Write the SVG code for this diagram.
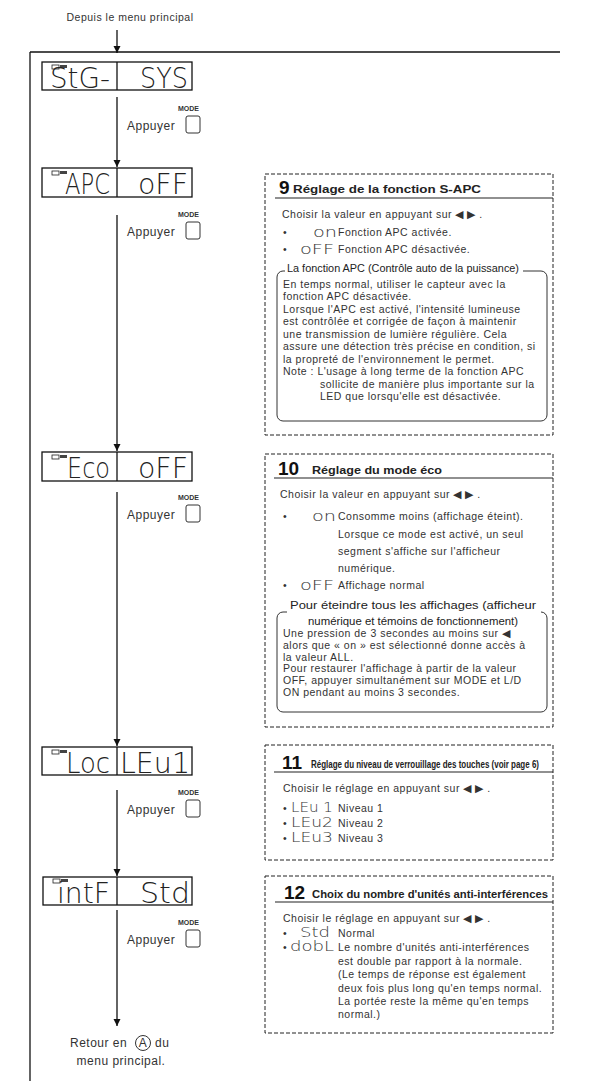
<svg xmlns="http://www.w3.org/2000/svg" width="596" height="1081" viewBox="0 0 596 1081">
<defs>
<style>
.t{font-family:"Liberation Sans",Arial,sans-serif;font-size:10.5px;letter-spacing:0.5px;fill:#333}
.ap{font-family:"Liberation Sans",Arial,sans-serif;font-size:12px;letter-spacing:0.5px;fill:#333}
.md{font-family:"Liberation Sans",Arial,sans-serif;font-size:7px;font-weight:bold;fill:#333}
.num{font-family:"Liberation Sans",Arial,sans-serif;font-size:19px;font-weight:bold;fill:#111}
.ti{font-family:"Liberation Sans",Arial,sans-serif;font-size:10.5px;font-weight:bold;fill:#222}
.lb{font-family:"Liberation Sans",Arial,sans-serif;font-size:10px;fill:#222}
.seg{font-family:"DejaVu Sans","Liberation Sans",sans-serif;font-weight:200;font-size:28px;fill:#222}
.sseg{font-family:"DejaVu Sans","Liberation Sans",sans-serif;font-weight:200;font-size:14px;fill:#333}
.disp{fill:#fff;stroke:#111;stroke-width:1.3}
.dash{fill:none;stroke:#222;stroke-width:1;stroke-dasharray:4 2}
.inner{fill:none;stroke:#333;stroke-width:1}
.ln{stroke:#111;stroke-width:1.3;fill:none}
.btn{fill:#fff;stroke:#333;stroke-width:1}
.ul{stroke:#222;stroke-width:1.2}
</style>
<marker id="ar" viewBox="0 0 10 10" refX="10" refY="5" markerWidth="7" markerHeight="9" markerUnits="userSpaceOnUse" orient="auto">
<path d="M0,0 L10,5 L0,10 z" fill="#111"/>
</marker>
<g id="ind"><rect x="0" y="0" width="7" height="4" fill="none" stroke="#222" stroke-width="0.8"/><rect x="8" y="0" width="7" height="3" fill="#444"/></g>
<g id="btnmode"><text class="md" x="-8" y="0">MODE</text><rect class="btn" x="0" y="5" width="14" height="17" rx="2"/></g>
</defs>
<rect width="596" height="1081" fill="#fff"/>

<text class="t" x="130" y="21" text-anchor="middle" font-size="12" letter-spacing="0.9">Depuis le menu principal</text>

<g id="frame">
<line class="ln" x1="30" y1="52" x2="560" y2="52"/>
<line class="ln" x1="30" y1="52" x2="30" y2="1081"/>
</g>

<g id="connectors">
<line class="ln" x1="117" y1="30" x2="117" y2="53" marker-end="url(#ar)"/>
<line class="ln" x1="117" y1="97" x2="117" y2="167" marker-end="url(#ar)"/>
<line class="ln" x1="117" y1="215" x2="117" y2="451" marker-end="url(#ar)"/>
<line class="ln" x1="117" y1="492" x2="117" y2="746" marker-end="url(#ar)"/>
<line class="ln" x1="117" y1="790" x2="117" y2="876" marker-end="url(#ar)"/>
<line class="ln" x1="117" y1="910" x2="117" y2="1026" marker-end="url(#ar)"/>
</g>

<g id="d1">
<rect class="disp" x="42" y="62" width="150" height="28"/>
<line class="ln" x1="117" y1="62" x2="117" y2="90"/>
<use href="#ind" x="52" y="65"/>
<text class="seg" x="50" y="88" textLength="60" lengthAdjust="spacingAndGlyphs">StG-</text>
<text class="seg" x="140" y="88" textLength="48" lengthAdjust="spacingAndGlyphs">SYS</text>
</g>
<g id="p1">
<text class="ap" x="127" y="130">Appuyer</text>
<use href="#btnmode" x="186" y="111"/>
</g>

<g id="d2">
<rect class="disp" x="42" y="168" width="150" height="29"/>
<line class="ln" x1="117" y1="168" x2="117" y2="197"/>
<use href="#ind" x="52" y="171"/>
<text class="seg" x="65" y="194" textLength="45" lengthAdjust="spacingAndGlyphs">APC</text>
<text class="seg" x="138" y="194" textLength="50" lengthAdjust="spacingAndGlyphs">oFF</text>
</g>
<g id="p2">
<text class="ap" x="127" y="236">Appuyer</text>
<use href="#btnmode" x="186" y="217"/>
</g>

<g id="d3">
<rect class="disp" x="42" y="452" width="150" height="29"/>
<line class="ln" x1="117" y1="452" x2="117" y2="481"/>
<use href="#ind" x="52" y="455"/>
<text class="seg" x="67" y="478" textLength="43" lengthAdjust="spacingAndGlyphs">Eco</text>
<text class="seg" x="138" y="478" textLength="50" lengthAdjust="spacingAndGlyphs">oFF</text>
</g>
<g id="p3">
<text class="ap" x="127" y="519">Appuyer</text>
<use href="#btnmode" x="186" y="500"/>
</g>

<g id="d4">
<rect class="disp" x="42" y="747" width="150" height="28"/>
<line class="ln" x1="117" y1="747" x2="117" y2="775"/>
<use href="#ind" x="52" y="750"/>
<text class="seg" x="66" y="773" textLength="44" lengthAdjust="spacingAndGlyphs">Loc</text>
<text class="seg" x="120" y="773" textLength="70" lengthAdjust="spacingAndGlyphs">LEu1</text>
</g>
<g id="p4">
<text class="ap" x="127" y="814">Appuyer</text>
<use href="#btnmode" x="186" y="795"/>
</g>

<g id="d5">
<rect class="disp" x="43" y="877" width="149" height="28"/>
<line class="ln" x1="117" y1="877" x2="117" y2="905"/>
<use href="#ind" x="53" y="879"/>
<text class="seg" x="57" y="903" textLength="53" lengthAdjust="spacingAndGlyphs">intF</text>
<text class="seg" x="140" y="903" textLength="50" lengthAdjust="spacingAndGlyphs">Std</text>
</g>
<g id="p5">
<text class="ap" x="127" y="944">Appuyer</text>
<use href="#btnmode" x="186" y="925"/>
</g>

<g id="ret">
<text class="ap" x="70" y="1047">Retour en</text>
<circle cx="143" cy="1043" r="7.5" fill="none" stroke="#333" stroke-width="1"/>
<text class="ap" x="143" y="1047" text-anchor="middle" letter-spacing="0">A</text>
<text class="ap" x="155" y="1047">du</text>
<text class="ap" x="121" y="1065" text-anchor="middle">menu principal.</text>
</g>

<g id="panel9">
<rect class="dash" x="265" y="174" width="288" height="261"/>
<text class="num" x="279" y="194">9</text>
<text class="ti" x="293" y="193" textLength="188" lengthAdjust="spacingAndGlyphs">Réglage de la fonction S-APC</text>
<line class="ul" x1="275" y1="198" x2="553" y2="198"/>
<text class="t" x="282" y="218">Choisir la valeur en appuyant sur ◀ ▶ .</text>
<text class="t" x="283" y="236">•</text>
<text class="sseg" x="313" y="237" textLength="24" lengthAdjust="spacingAndGlyphs">on</text>
<text class="t" x="338" y="236">Fonction APC activée.</text>
<text class="t" x="283" y="253">•</text>
<text class="sseg" x="300" y="254" textLength="34" lengthAdjust="spacingAndGlyphs">oFF</text>
<text class="t" x="338" y="253">Fonction APC désactivée.</text>
<rect class="inner" x="277" y="271" width="270" height="150" rx="6"/>
<rect x="285" y="262" width="238" height="13" fill="#fff"/>
<text class="lb" x="403" y="272" text-anchor="middle" textLength="232" lengthAdjust="spacingAndGlyphs">La fonction APC (Contrôle auto de la puissance)</text>
<text class="t" x="283" y="288">En temps normal, utiliser le capteur avec la</text>
<text class="t" x="283" y="300">fonction APC désactivée.</text>
<text class="t" x="283" y="312.5">Lorsque l'APC est activé, l'intensité lumineuse</text>
<text class="t" x="283" y="325">est contrôlée et corrigée de façon à maintenir</text>
<text class="t" x="283" y="337.5">une transmission de lumière régulière. Cela</text>
<text class="t" x="283" y="350">assure une détection très précise en condition, si</text>
<text class="t" x="283" y="362.5">la propreté de l'environnement le permet.</text>
<text class="t" x="283" y="375">Note :  L'usage à long terme de la fonction APC</text>
<text class="t" x="320" y="387.5">sollicite de manière plus importante sur la</text>
<text class="t" x="320" y="400">LED que lorsqu'elle est désactivée.</text>
</g>

<g id="panel10">
<rect class="dash" x="265" y="454" width="288" height="273"/>
<text class="num" x="278" y="475">10</text>
<text class="ti" x="312" y="474" textLength="130" lengthAdjust="spacingAndGlyphs">Réglage du mode éco</text>
<line class="ul" x1="274" y1="478" x2="553" y2="478"/>
<text class="t" x="280" y="498">Choisir la valeur en appuyant sur ◀ ▶ .</text>
<text class="t" x="283" y="520">•</text>
<text class="sseg" x="312" y="521" textLength="24" lengthAdjust="spacingAndGlyphs">on</text>
<text class="t" x="338" y="520">Consomme moins (affichage éteint).</text>
<text class="t" x="338" y="538">Lorsque ce mode est activé, un seul</text>
<text class="t" x="338" y="555">segment s'affiche sur l'afficheur</text>
<text class="t" x="338" y="572">numérique.</text>
<text class="t" x="283" y="589">•</text>
<text class="sseg" x="300" y="590" textLength="34" lengthAdjust="spacingAndGlyphs">oFF</text>
<text class="t" x="338" y="589">Affichage normal</text>
<rect class="inner" x="277" y="612" width="270" height="100" rx="6"/>
<rect x="287" y="599" width="254" height="30" fill="#fff"/>
<text class="lb" x="413" y="609" text-anchor="middle" textLength="246" lengthAdjust="spacingAndGlyphs">Pour éteindre tous les affichages (afficheur</text>
<text class="lb" x="413" y="625" text-anchor="middle" textLength="210" lengthAdjust="spacingAndGlyphs">numérique et témoins de fonctionnement)</text>
<text class="t" x="283" y="637">Une pression de 3 secondes au moins sur ◀</text>
<text class="t" x="283" y="649">alors que « on » est sélectionné donne accès à</text>
<text class="t" x="283" y="661">la valeur ALL.</text>
<text class="t" x="283" y="672">Pour restaurer l'affichage à partir de la valeur</text>
<text class="t" x="283" y="684">OFF, appuyer simultanément sur MODE et L/D</text>
<text class="t" x="283" y="696">ON pendant au moins 3 secondes.</text>
</g>

<g id="panel11">
<rect class="dash" x="265" y="745" width="288" height="115"/>
<text class="num" x="282" y="769">11</text>
<text class="ti" x="311" y="768" font-size="7.5" font-weight="normal" textLength="228" lengthAdjust="spacingAndGlyphs">Réglage du niveau de verrouillage des touches (voir page 6)</text>
<line class="ul" x1="274" y1="772" x2="553" y2="772"/>
<text class="t" x="283" y="792">Choisir le réglage en appuyant sur ◀ ▶ .</text>
<text class="t" x="283" y="812">•</text>
<text class="sseg" x="291" y="812" textLength="42" lengthAdjust="spacingAndGlyphs">LEu 1</text>
<text class="t" x="338" y="812">Niveau 1</text>
<text class="t" x="283" y="827">•</text>
<text class="sseg" x="291" y="827" textLength="42" lengthAdjust="spacingAndGlyphs">LEu2</text>
<text class="t" x="338" y="827">Niveau 2</text>
<text class="t" x="283" y="842">•</text>
<text class="sseg" x="291" y="842" textLength="42" lengthAdjust="spacingAndGlyphs">LEu3</text>
<text class="t" x="338" y="842">Niveau 3</text>
</g>

<g id="panel12">
<rect class="dash" x="265" y="876" width="288" height="157"/>
<text class="num" x="284" y="899">12</text>
<text class="ti" x="312" y="898" textLength="236" lengthAdjust="spacingAndGlyphs">Choix du nombre d'unités anti-interférences</text>
<line class="ul" x1="275" y1="902" x2="553" y2="902"/>
<text class="t" x="283" y="922">Choisir le réglage en appuyant sur ◀ ▶ .</text>
<text class="t" x="283" y="937">•</text>
<text class="sseg" x="300" y="937" textLength="30" lengthAdjust="spacingAndGlyphs">Std</text>
<text class="t" x="338" y="937">Normal</text>
<text class="t" x="283" y="951">•</text>
<text class="sseg" x="290" y="951" textLength="44" lengthAdjust="spacingAndGlyphs">dobL</text>
<text class="t" x="338" y="951">Le nombre d'unités anti-interférences</text>
<text class="t" x="338" y="965">est double par rapport à la normale.</text>
<text class="t" x="338" y="978">(Le temps de réponse est également</text>
<text class="t" x="338" y="992">deux fois plus long qu'en temps normal.</text>
<text class="t" x="338" y="1005">La portée reste la même qu'en temps</text>
<text class="t" x="338" y="1018">normal.)</text>
</g>
</svg>
